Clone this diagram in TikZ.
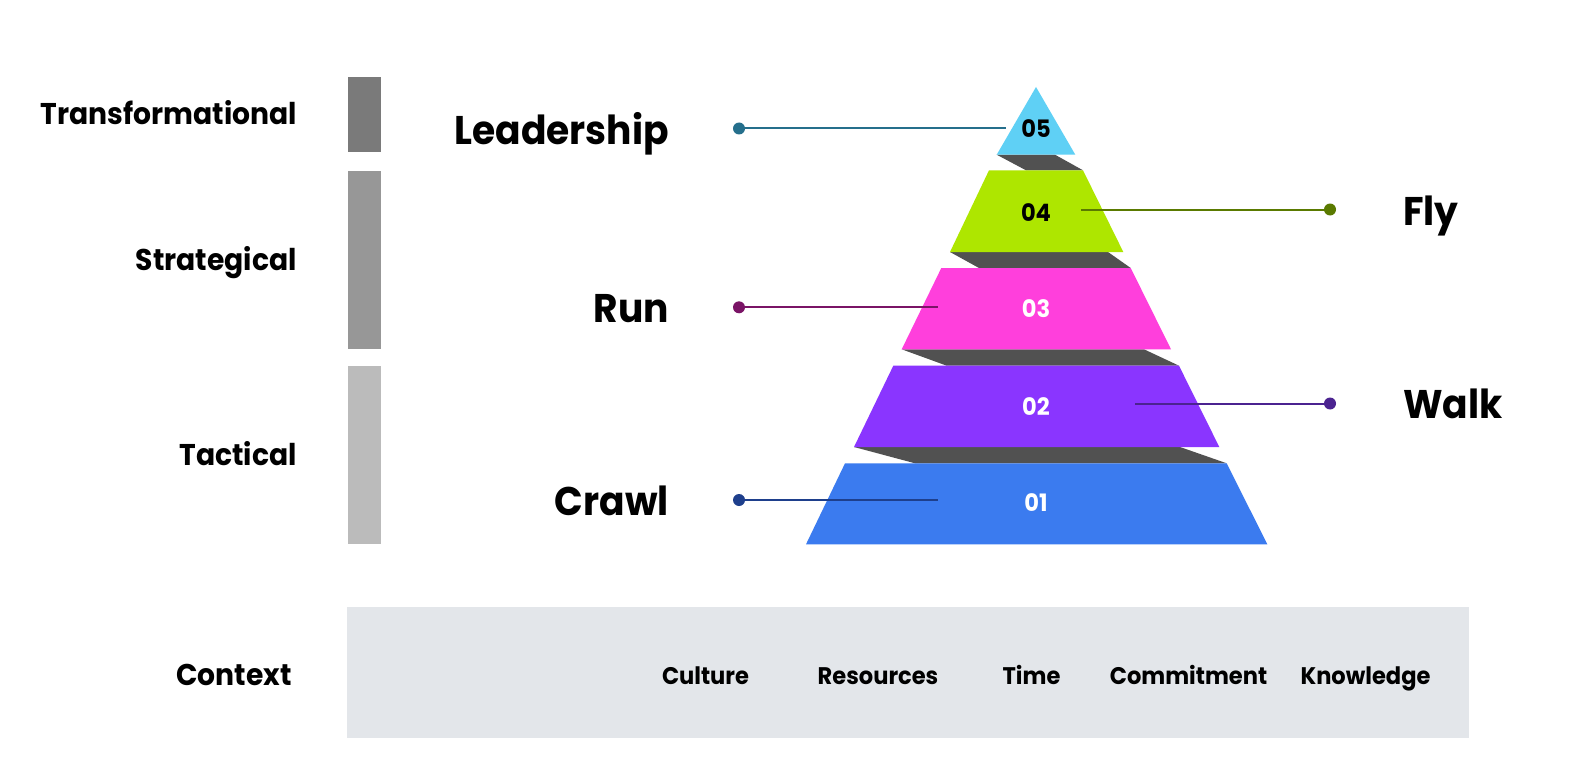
\documentclass[tikz,border=0pt]{standalone}
\usepackage{fontspec}
\setmainfont{Poppins}[BoldFont=* Bold, FakeStretch=0.94]
\definecolor{cL5}{HTML}{5FD0F5}
\definecolor{cL4}{HTML}{AEE600}
\definecolor{cL3}{HTML}{FF3FDC}
\definecolor{cL2}{HTML}{8A35FF}
\definecolor{cL1}{HTML}{3B7BEF}
\definecolor{cShadow}{HTML}{515151}
\definecolor{cBarA}{HTML}{7A7A7A}
\definecolor{cBarB}{HTML}{979797}
\definecolor{cBarC}{HTML}{BBBBBB}
\definecolor{cCtx}{HTML}{E3E6EA}
\definecolor{kL5}{HTML}{256F8C}
\definecolor{kL4}{HTML}{5A7A00}
\definecolor{kL3}{HTML}{7A1466}
\definecolor{kL2}{HTML}{4B2390}
\definecolor{kL1}{HTML}{1E3F8C}
\tikzset{
  biglabel/.style={font=\bfseries\fontsize{40}{44}\selectfont, inner sep=0pt},
  sidelabel/.style={font=\bfseries\fontsize{30}{33}\selectfont, inner sep=0pt, anchor=base east},
  ctxlabel/.style={font=\bfseries\fontsize{24}{28}\selectfont, inner sep=0pt, anchor=base},
  numlabel/.style={font=\bfseries\fontsize{24}{27}\selectfont, inner sep=0pt, anchor=base},
  leader/.style={line width=2pt},
  dotmark/.style={circle, inner sep=0pt, minimum size=12pt},
}
\begin{document}
\begin{tikzpicture}[x=1pt,y=-1pt]
\useasboundingbox (0,0) rectangle (1570,770);
\fill[white] (0,0) rectangle (1570,770);
% side bars
\fill[cBarA] (348,76.7) rectangle (381,151.7);
\fill[cBarB] (348,170.7) rectangle (381,349.3);
\fill[cBarC] (348,365.7) rectangle (381,544.3);
\node[sidelabel] (transf) at (297,125) {Transformational};
\node[sidelabel] (strat) at (297,270) {Strategical};
\node[sidelabel] (tact) at (297,465) {Tactical};
% context box
\fill[cCtx] (347,606.7) rectangle (1469,738.3);
\node[sidelabel] (ctx) at (292,685) {Context};
\node[ctxlabel] (cult) at (705.5,684.3) {Culture};
\node[ctxlabel] (res) at (878,684.3) {Resources};
\node[ctxlabel] (time) at (1031.5,684.3) {Time};
\node[ctxlabel] (comm) at (1188.5,684.3) {Commitment};
\node[ctxlabel] (know) at (1365.5,684.3) {Knowledge};
% shadows
\fill[cShadow] (996.7,154.7) -- (1055,154.7) -- (1083,170.3) -- (1026,170.3) -- cycle;
\fill[cShadow] (950,252) -- (1108,252) -- (1130.7,268) -- (979,268) -- cycle;
\fill[cShadow] (901.7,349.3) -- (1144,349.3) -- (1179,365.7) -- (946.7,365.7) -- cycle;
\fill[cShadow] (854,447) -- (1180,447) -- (1226.7,463.3) -- (915,463.3) -- cycle;
% layers
\fill[cL5] (1036,87) -- (1075.3,154.7) -- (996.7,154.7) -- cycle;
\fill[cL4] (989,170.3) -- (1083,170.3) -- (1123.3,252) -- (950,252) -- cycle;
\fill[cL3] (941.3,268) -- (1130.7,268) -- (1171,349.3) -- (901.7,349.3) -- cycle;
\fill[cL2] (893.3,365.7) -- (1179,365.7) -- (1219.3,447) -- (854,447) -- cycle;
\fill[cL1] (845,463.3) -- (1226.7,463.3) -- (1267.3,544.3) -- (806,544.3) -- cycle;
% numbers
\node[numlabel] (n5) at (1036,137.7) {05};
\node[numlabel] (n4) at (1036,221) {04};
\node[numlabel, text=white] (n3) at (1036,317) {03};
\node[numlabel, text=white] (n2) at (1036,415) {02};
\node[numlabel, text=white] (n1) at (1036,511.7) {01};
% leader endpoints
\coordinate (e5) at (1006,128.5);
\coordinate (e4) at (1081,209.5);
\coordinate (e3) at (937.7,307.3);
\coordinate (e2) at (1135,403.5);
\coordinate (e1) at (937.7,500);
\node[dotmark, fill=kL5] (d5) at (739,128.5) {};
\node[dotmark, fill=kL4] (d4) at (1330,209.5) {};
\node[dotmark, fill=kL3] (d3) at (739,307.3) {};
\node[dotmark, fill=kL2] (d2) at (1330,403.5) {};
\node[dotmark, fill=kL1] (d1) at (739,500) {};
\draw[leader, kL5] (d5.center) -- (e5);
\draw[leader, kL4] (e4) -- (d4.center);
\draw[leader, kL3] (d3.center) -- (e3);
\draw[leader, kL2] (e2) -- (d2.center);
\draw[leader, kL1] (d1.center) -- (e1);
% big labels
\node[biglabel, anchor=base east] (lead) at (669,144.3) {Leadership};
\node[biglabel, anchor=base east] (run) at (669,322) {Run};
\node[biglabel, anchor=base east] (crawl) at (669,515) {Crawl};
\node[biglabel, anchor=base west] (fly) at (1403,225) {Fly};
\node[biglabel, anchor=base west] (walk) at (1403,418.3) {Walk};
\end{tikzpicture}
\end{document}
